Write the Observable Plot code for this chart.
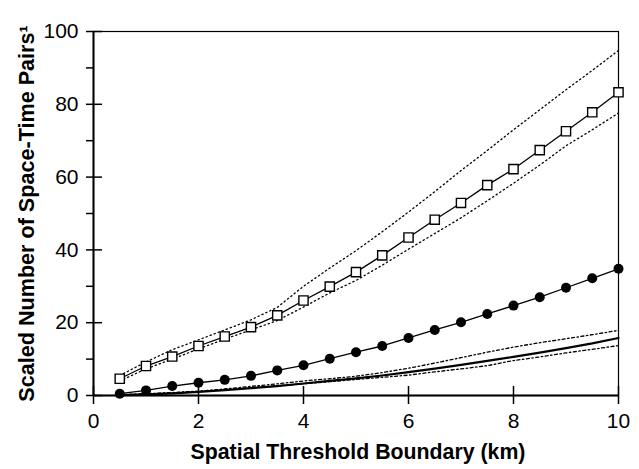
<!DOCTYPE html>
<html>
<head>
<meta charset="utf-8">
<script src="https://cdn.jsdelivr.net/npm/d3@7"></script>
<script src="https://cdn.jsdelivr.net/npm/@observablehq/plot@0.6"></script>
<style>
  html, body { margin: 0; padding: 0; background: white; }
</style>
</head>
<body>
<div id="chart"></div>
<script>
const xs = [0.5, 1.0, 1.5, 2.0, 2.5, 3.0, 3.5, 4.0, 4.5, 5.0, 5.5, 6.0, 6.5, 7.0, 7.5, 8.0, 8.5, 9.0, 9.5, 10.0];
const squares      = [4.6, 8.1, 10.7, 13.6, 16.2, 18.8, 22.0, 26.1, 29.9, 33.9, 38.5, 43.4, 48.3, 52.9, 57.8, 62.2, 67.4, 72.6, 77.8, 83.3];
const squaresUpper = [5.5, 9.2, 12.6, 15.3, 18.0, 20.8, 24.2, 30.0, 35.0, 39.8, 45.0, 50.4, 56.0, 61.8, 67.3, 73.0, 78.5, 84.0, 89.3, 94.8];
const squaresLower = [4.0, 7.3, 10.0, 12.8, 15.5, 18.0, 20.6, 24.3, 28.2, 31.6, 35.8, 40.2, 44.5, 48.8, 53.5, 58.3, 63.3, 68.6, 73.0, 77.6];
const circles      = [0.5, 1.4, 2.6, 3.5, 4.3, 5.4, 6.9, 8.3, 10.1, 11.9, 13.6, 15.8, 18.0, 20.1, 22.4, 24.7, 27.0, 29.6, 32.2, 34.8];
const base         = [0.1, 0.3, 0.6, 1.0, 1.5, 2.0, 2.6, 3.3, 4.0, 4.7, 5.5, 6.4, 7.4, 8.4, 9.5, 10.6, 11.8, 13.0, 14.3, 15.8];
const baseUpper    = [0.2, 0.5, 0.8, 1.2, 1.8, 2.5, 3.2, 4.0, 4.6, 5.3, 6.3, 7.5, 8.9, 10.4, 11.9, 13.3, 14.5, 15.6, 16.7, 17.9];
const baseLower    = [0.1, 0.4, 0.7, 1.1, 1.6, 2.1, 2.7, 3.2, 3.8, 4.4, 5.0, 5.6, 6.5, 7.3, 8.2, 9.6, 10.6, 11.7, 12.7, 13.7];

const xTicks = [0, 2, 4, 6, 8, 10];
const yMajor = [0, 20, 40, 60, 80, 100];
const yMinor = [10, 30, 50, 70, 90];
const xLabel = "Spatial Threshold Boundary (km)";
const yLabel = "Scaled Number of Space-Time Pairs\u00B9";

const rows = xs.map((x, i) => ({
  x, sq: squares[i], sqU: squaresUpper[i], sqL: squaresLower[i],
  ci: circles[i], b: base[i], bU: baseUpper[i], bL: baseLower[i]
}));

const chart = Plot.plot({
  width: 639,
  height: 469,
  marginLeft: 93,
  marginRight: 21,
  marginTop: 31,
  marginBottom: 74,
  x: {domain: [0, 10]},
  y: {domain: [0, 100]},
  style: {fontFamily: "'Liberation Sans', Arial, Helvetica, sans-serif", background: "white", color: "black"},
  marks: [
    Plot.frame({stroke: "black", strokeWidth: 1.2}),
    Plot.ruleX([0], {stroke: "black", strokeWidth: 2}),
    Plot.ruleY([0], {stroke: "black", strokeWidth: 2}),
    Plot.axisX(xTicks, {tickSize: 18, dy: -9, tickFormat: () => "", label: null, strokeWidth: 1.5}),
    Plot.axisX(xTicks, {tickSize: 0, tickPadding: 18, fontSize: 21, label: null}),
    Plot.axisY(yMajor, {tickSize: 16, dx: 9, tickFormat: () => "", label: null, strokeWidth: 1.5}),
    Plot.axisY(yMinor, {tickSize: 7, tickFormat: () => "", label: null, strokeWidth: 1.5}),
    Plot.axisY(yMajor, {tickSize: 0, tickPadding: 15, fontSize: 21, label: null}),
    // bounds of lowest series (dash-dot)
    Plot.line(rows, {x: "x", y: "bU", stroke: "black", strokeWidth: 1.3, strokeDasharray: "3,2.5,1.5,2.5"}),
    Plot.line(rows, {x: "x", y: "bL", stroke: "black", strokeWidth: 1.3, strokeDasharray: "3,2.5,1.5,2.5"}),
    Plot.line(rows, {x: "x", y: "b", stroke: "black", strokeWidth: 2.2}),
    // bounds of square series (dotted)
    Plot.line(rows, {x: "x", y: "sqU", stroke: "black", strokeWidth: 1.3, strokeDasharray: "1.3,3"}),
    Plot.line(rows, {x: "x", y: "sqL", stroke: "black", strokeWidth: 1.3, strokeDasharray: "1.3,3"}),
    Plot.line(rows, {x: "x", y: "sq", stroke: "black", strokeWidth: 1.3}),
    Plot.dot(rows, {x: "x", y: "sq", symbol: "square", r: 5.2, stroke: "black", strokeWidth: 1.4, fill: "white"}),
    Plot.line(rows, {x: "x", y: "ci", stroke: "black", strokeWidth: 1.3}),
    Plot.dot(rows, {x: "x", y: "ci", symbol: "circle", r: 5, fill: "black", stroke: "none"}),
    Plot.text([xLabel], {text: d => d, frameAnchor: "bottom", lineAnchor: "middle", textAnchor: "middle", dy: 57, dx: 2, fontSize: 21.3, fontWeight: "bold"}),
    Plot.text([yLabel], {text: d => d, frameAnchor: "left", lineAnchor: "middle", textAnchor: "middle", rotate: -90, dx: -66, fontSize: 21.6, fontWeight: "bold"})
  ]
});
document.getElementById("chart").appendChild(chart);
</script>
</body>
</html>
